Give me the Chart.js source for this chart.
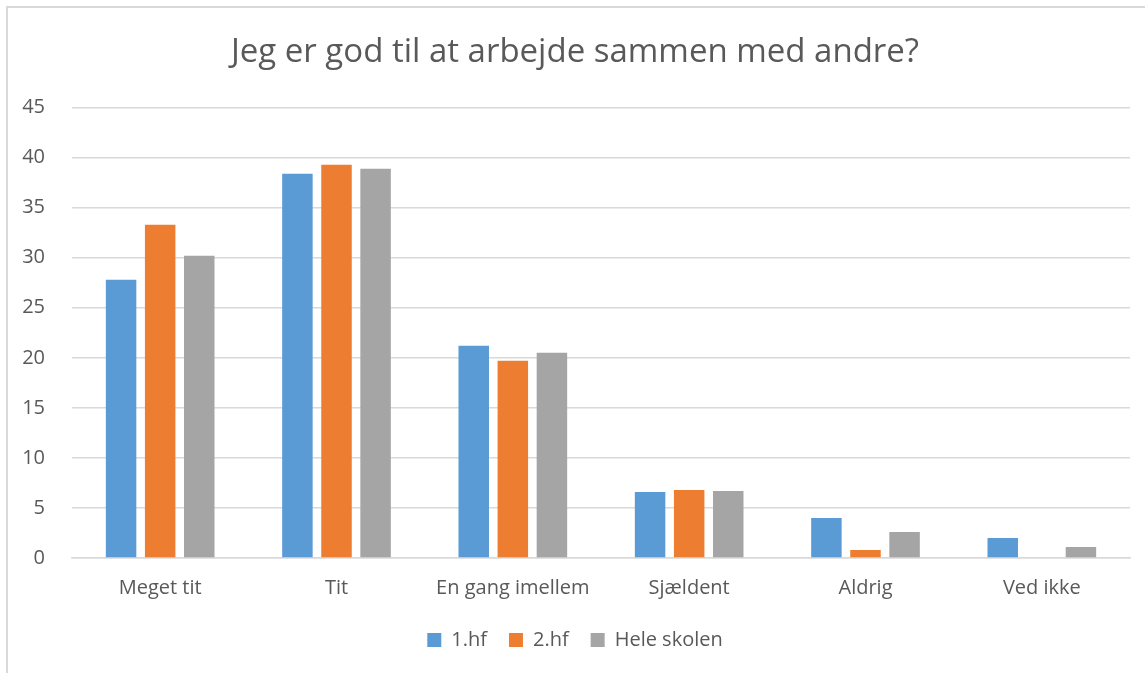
<!DOCTYPE html>
<html>
<head>
<meta charset="utf-8">
<script src="https://cdn.jsdelivr.net/npm/chart.js@4/dist/chart.umd.min.js"></script>
<style>
  html, body { margin: 0; padding: 0; background: #fff; overflow: hidden; }
  #wrap { position: absolute; left: 7px; top: 0; width: 1153px; height: 673px; }
  #frame {
    position: absolute; left: 6px; top: 6px; right: -10px; bottom: -10px;
    border-left: 2px solid #d9d9d9; border-top: 2px solid #d9d9d9;
    pointer-events: none;
  }
</style>
</head>
<body>
<div id="wrap">
  <canvas id="chart"></canvas>
</div>
<div id="frame"></div>
<script>
// values
let categories = ['Meget tit', 'Tit', 'En gang imellem', 'Sjældent', 'Aldrig', 'Ved ikke']
let hf1 = [27.8, 38.4, 21.2, 6.6, 4.0, 2.0]
let hf2 = [33.3, 39.3, 19.7, 6.8, 0.8, 0]
let heleSkolen = [30.2, 38.9, 20.5, 6.7, 2.6, 1.1]
let yTicks = [0, 5, 10, 15, 20, 25, 30, 35, 40, 45]

const textColor = '#595959'
const gridColor = '#d9d9d9'
const font = '"Open Sans", sans-serif'

let ds = (label, data, color) => {
  return {
    label: label,
    data: data,
    backgroundColor: color,
    borderWidth: 0,
    barPercentage: 0.78,
    categoryPercentage: 0.665
  }
}

new Chart(document.getElementById('chart'), {
  type: 'bar',
  data: {
    labels: categories,
    datasets: [
      ds('1.hf', hf1, '#5b9bd5'),
      ds('2.hf', hf2, '#ed7d31'),
      ds('Hele skolen', heleSkolen, '#a5a5a5')
    ]
  },
  options: {
    responsive: true,
    maintainAspectRatio: false,
    animation: false,
    layout: { autoPadding: false, padding: { left: 13, right: 30, top: 33, bottom: 13 } },
    plugins: {
      title: {
        display: true,
        text: 'Jeg er god til at arbejde sammen med andre?',
        color: textColor,
        font: { family: font, size: 33, weight: 'normal' },
        padding: { top: 0, bottom: 35 }
      },
      legend: {
        position: 'bottom',
        labels: {
          color: textColor,
          font: { family: font, size: 20 },
          boxWidth: 14,
          boxHeight: 14,
          padding: 22
        }
      },
      tooltip: { enabled: false }
    },
    scales: {
      x: {
        // wider legend padding adds height, so the axis gives some back
        afterFit (axis) {
          axis.height -= 10
        },
        grid: { display: false, drawTicks: false },
        border: { color: gridColor, width: 1.5 },
        ticks: { color: textColor, font: { family: font, size: 20 }, padding: 18 }
      },
      y: {
        min: 0,
        max: 45,
        afterBuildTicks (axis) {
          axis.ticks = yTicks.map(v => ({ value: v }))
        },
        afterFit (axis) {
          axis.width = 52
        },
        grid: { color: gridColor, lineWidth: 1.5, drawTicks: false },
        border: { display: false },
        ticks: { color: textColor, font: { family: font, size: 20 }, padding: 27 }
      }
    }
  }
})
</script>
</body>
</html>
